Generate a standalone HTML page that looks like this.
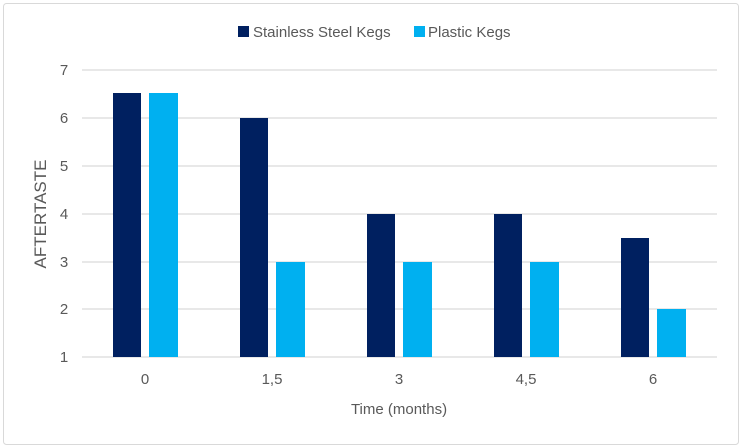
<!DOCTYPE html>
<html><head><meta charset="utf-8"><style>
html,body{margin:0;padding:0;background:#fff;}
svg{display:block;}
text{font-family:"Liberation Sans",Arial,sans-serif;fill:#595959;}
</style></head><body>
<svg width="742" height="448" viewBox="0 0 742 448">
<rect x="3.5" y="3.5" width="735" height="441" rx="3" fill="#fff" stroke="#d9d9d9"/>
<g stroke="#d9d9d9" stroke-width="1.3">
<line x1="82" y1="70" x2="717" y2="70"/>
<line x1="82" y1="118" x2="717" y2="118"/>
<line x1="82" y1="166" x2="717" y2="166"/>
<line x1="82" y1="214" x2="717" y2="214"/>
<line x1="82" y1="262" x2="717" y2="262"/>
<line x1="82" y1="309" x2="717" y2="309"/>
<line x1="82" y1="357" x2="717" y2="357"/>
</g>
<g font-size="15" text-anchor="middle">
<text x="64" y="75">7</text><text x="64" y="123">6</text><text x="64" y="171">5</text>
<text x="64" y="219">4</text><text x="64" y="267">3</text><text x="64" y="314">2</text><text x="64" y="362">1</text>
</g>
<g fill="#002060">
<rect x="113" y="93" width="28" height="264"/>
<rect x="240" y="118" width="28" height="239"/>
<rect x="367" y="214" width="28" height="143"/>
<rect x="494" y="214" width="28" height="143"/>
<rect x="621" y="238" width="28" height="119"/>
</g>
<g fill="#00b0f0">
<rect x="149" y="93" width="29" height="264"/>
<rect x="276" y="262" width="29" height="95"/>
<rect x="403" y="262" width="29" height="95"/>
<rect x="530" y="262" width="29" height="95"/>
<rect x="657" y="309" width="29" height="48"/>
</g>
<g font-size="15" text-anchor="middle">
<text x="145" y="384">0</text><text x="272" y="384">1,5</text><text x="399" y="384">3</text>
<text x="526" y="384">4,5</text><text x="653" y="384">6</text>
</g>
<text x="399" y="414" font-size="15" text-anchor="middle">Time (months)</text>
<text transform="translate(46,214) rotate(-90)" font-size="17" text-anchor="middle">AFTERTASTE</text>
<rect x="238" y="26" width="11" height="11" fill="#002060"/>
<text x="253" y="37" font-size="15">Stainless Steel Kegs</text>
<rect x="414" y="26" width="11" height="11" fill="#00b0f0"/>
<text x="428" y="37" font-size="15">Plastic Kegs</text>
</svg>
</body></html>
